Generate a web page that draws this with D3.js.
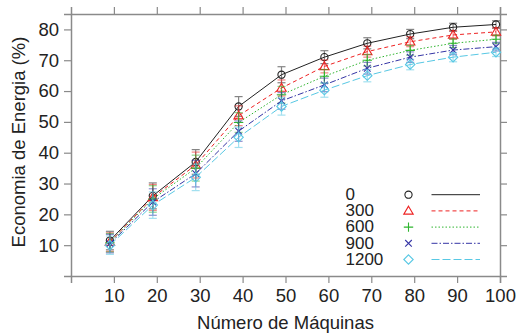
<!DOCTYPE html>
<html>
<head>
<meta charset="utf-8">
<script src="https://cdn.jsdelivr.net/npm/d3@7"></script>
<style>
  html, body { margin: 0; padding: 0; background: #fff; }
  svg text { font-family: "Liberation Sans", Arial, sans-serif; fill: #222; }
</style>
</head>
<body>
<div id="chart"></div>
<script>
// --- data ---
const machines = [10, 20, 30, 40, 50, 60, 70, 80, 90, 100];
const seriesNames = ["0", "300", "600", "900", "1200"];
const saving0    = [11.5, 26.0, 37.0, 55.0, 65.3, 71.0, 75.5, 78.5, 80.7, 81.6];
const saving300  = [11.0, 25.5, 36.0, 52.0, 61.0, 68.0, 72.8, 76.0, 78.2, 79.2];
const saving600  = [10.8, 25.0, 35.0, 49.8, 58.8, 64.8, 70.0, 73.2, 75.5, 76.8];
const saving900  = [10.5, 24.0, 33.2, 47.0, 56.8, 62.0, 67.4, 71.0, 73.3, 74.4];
const saving1200 = [10.0, 23.0, 32.0, 45.0, 55.0, 60.3, 65.0, 68.6, 71.0, 72.6];
const err0    = [3.0, 4.2, 4.0, 3.2, 2.6, 2.1, 1.8, 1.5, 1.3, 1.2];
const err300  = [3.0, 4.2, 4.2, 3.2, 2.6, 2.1, 1.8, 1.6, 1.4, 1.3];
const err600  = [3.0, 4.3, 4.2, 3.2, 2.7, 2.2, 1.9, 1.6, 1.4, 1.3];
const err900  = [3.0, 4.3, 4.3, 3.3, 2.7, 2.2, 1.9, 1.7, 1.5, 1.4];
const err1200 = [3.0, 4.3, 4.3, 3.3, 2.8, 2.3, 2.0, 1.7, 1.5, 1.4];
const xTicks = [10, 20, 30, 40, 50, 60, 70, 80, 90, 100];
const yTicks = [10, 20, 30, 40, 50, 60, 70, 80];

const seriesValues = [saving0, saving300, saving600, saving900, saving1200];
const seriesErrors = [err0, err300, err600, err900, err1200];

// --- styles ---
const colors = ["#222222", "#ee2222", "#2fb52f", "#3535a5", "#58c8e4"];
const dashes = [null, "4,3", "1.5,2", "6,2,1.5,2", "8,3"];
const symbols = ["circle", "triangle", "plus", "cross", "diamond"];

const width = 517, height = 336;
const margin = { top: 14, right: 17, bottom: 60, left: 71 };
const fontSize = 18.5;

const svg = d3.select("#chart").append("svg")
  .attr("width", width)
  .attr("height", height);

const x = d3.scaleLinear().domain([0, 100]).range([margin.left, width - margin.right]);
const y = d3.scaleLinear().domain([0, 85]).range([height - margin.bottom, margin.top]);

const axisColor = "#8a8a8a";

// axes
const bottomAxis = svg.append("g")
  .attr("transform", `translate(0,${height - margin.bottom})`)
  .call(d3.axisBottom(x).tickValues(xTicks).tickSizeOuter(0).tickSize(7).tickPadding(6));
const topAxis = svg.append("g")
  .attr("transform", `translate(0,${margin.top})`)
  .call(d3.axisTop(x).tickValues(xTicks).tickSizeOuter(0).tickSize(7).tickFormat(""));
const leftAxis = svg.append("g")
  .attr("transform", `translate(${margin.left},0)`)
  .call(d3.axisLeft(y).tickValues(yTicks).tickSizeOuter(0).tickSize(7).tickPadding(5));
const rightAxis = svg.append("g")
  .attr("transform", `translate(${width - margin.right},0)`)
  .call(d3.axisRight(y).tickValues(yTicks).tickSizeOuter(0).tickSize(7).tickFormat(""));

[bottomAxis, topAxis, leftAxis, rightAxis].forEach(a => {
  a.select(".domain").attr("stroke", axisColor).attr("stroke-width", 1.5);
  a.selectAll(".tick line").attr("stroke", axisColor).attr("stroke-width", 1.2);
  a.selectAll(".tick text")
    .attr("font-size", fontSize + "px")
    .attr("font-family", "Liberation Sans, Arial, sans-serif")
    .attr("fill", "#222");
});

// axis titles
svg.append("text")
  .attr("x", (x(0) + x(100)) / 2)
  .attr("y", 329)
  .attr("text-anchor", "middle")
  .attr("font-size", fontSize + "px")
  .text("Número de Máquinas");

svg.append("text")
  .attr("transform", `translate(25,${(y(0) + y(85)) / 2 - 3}) rotate(-90)`)
  .attr("text-anchor", "middle")
  .attr("font-size", fontSize + "px")
  .text("Economia de Energia (%)");

// symbol drawing
function drawSymbol(g, type, cx, cy, color) {
  const s = 4.2;
  if (type === "circle") {
    g.append("circle").attr("cx", cx).attr("cy", cy).attr("r", 3.6)
      .attr("fill", "none").attr("stroke", color).attr("stroke-width", 1.1);
  } else if (type === "triangle") {
    g.append("path")
      .attr("d", `M${cx},${cy - s - 0.5}L${cx + s + 0.5},${cy + s - 1}L${cx - s - 0.5},${cy + s - 1}Z`)
      .attr("fill", "none").attr("stroke", color).attr("stroke-width", 1.1);
  } else if (type === "plus") {
    g.append("path")
      .attr("d", `M${cx - s - 0.5},${cy}H${cx + s + 0.5}M${cx},${cy - s - 0.5}V${cy + s + 0.5}`)
      .attr("stroke", color).attr("stroke-width", 1.1);
  } else if (type === "cross") {
    g.append("path")
      .attr("d", `M${cx - 3.3},${cy - 3.3}L${cx + 3.3},${cy + 3.3}M${cx - 3.3},${cy + 3.3}L${cx + 3.3},${cy - 3.3}`)
      .attr("stroke", color).attr("stroke-width", 1.1);
  } else if (type === "diamond") {
    g.append("path")
      .attr("d", `M${cx},${cy - s - 0.5}L${cx + s + 0.5},${cy}L${cx},${cy + s + 0.5}L${cx - s - 0.5},${cy}Z`)
      .attr("fill", "none").attr("stroke", color).attr("stroke-width", 1.1);
  }
}

// data (drawn slightly left of the ticks, as in the original)
const plot = svg.append("g").attr("transform", "translate(-4,0)");

const line = d3.line().x(d => x(d.m)).y(d => y(d.v));

seriesNames.forEach((name, i) => {
  const pts = machines.map((m, j) => ({ m, v: seriesValues[i][j], e: seriesErrors[i][j] }));
  const g = plot.append("g");

  // error bars
  const eb = g.selectAll(".eb").data(pts).join("g").attr("opacity", 0.55);
  eb.append("line")
    .attr("x1", d => x(d.m)).attr("x2", d => x(d.m))
    .attr("y1", d => y(d.v - d.e)).attr("y2", d => y(d.v + d.e))
    .attr("stroke", colors[i]).attr("stroke-width", 1.2);
  eb.append("line")
    .attr("x1", d => x(d.m) - 4).attr("x2", d => x(d.m) + 4)
    .attr("y1", d => y(d.v + d.e)).attr("y2", d => y(d.v + d.e))
    .attr("stroke", colors[i]).attr("stroke-width", 1.2);
  eb.append("line")
    .attr("x1", d => x(d.m) - 4).attr("x2", d => x(d.m) + 4)
    .attr("y1", d => y(d.v - d.e)).attr("y2", d => y(d.v - d.e))
    .attr("stroke", colors[i]).attr("stroke-width", 1.2);

  g.append("path")
    .datum(pts)
    .attr("d", line)
    .attr("fill", "none")
    .attr("stroke", colors[i])
    .attr("stroke-width", 1)
    .attr("stroke-dasharray", dashes[i]);

  pts.forEach(d => drawSymbol(g, symbols[i], x(d.m), y(d.v), colors[i]));
});

// legend
const legend = svg.append("g");
seriesNames.forEach((name, i) => {
  const cy = 194.7 + i * 16.2;
  legend.append("text")
    .attr("x", 345.5)
    .attr("y", cy + 5.2)
    .attr("font-size", "17px")
    .text(name);
  drawSymbol(legend, symbols[i], 408.5, cy, colors[i]);
  legend.append("line")
    .attr("x1", 431.5).attr("x2", 480)
    .attr("y1", cy).attr("y2", cy)
    .attr("stroke", colors[i])
    .attr("stroke-width", 1)
    .attr("stroke-dasharray", dashes[i]);
});
</script>
</body>
</html>
